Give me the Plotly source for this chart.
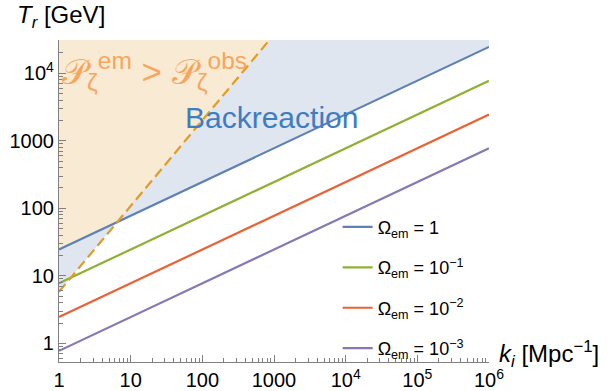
import numpy as np
import plotly.graph_objects as go

# ---- data ----
k_ends = [1, 1e6]                     # k_i [Mpc^-1]
omega_labels = ["Ω<sub>em</sub> = 1", "Ω<sub>em</sub> = 10<sup>−1</sup>",
                "Ω<sub>em</sub> = 10<sup>−2</sup>", "Ω<sub>em</sub> = 10<sup>−3</sup>"]
T_omega1 = [24.5, 24500]
T_omega01 = [7.75, 7750]
T_omega001 = [2.45, 2450]
T_omega0001 = [0.775, 775]
line_colors = ["#5e81b5", "#8fb032", "#eb6235", "#8778b3"]

k_pz = [1, 1000]                      # P_zeta^em = P_zeta^obs boundary
T_pz = [5.8, 37400]

x_ticks = [1, 10, 100, 1000, 1e4, 1e5, 1e6]
x_ticktext = ["1", "10", "100", "1000", "10<sup>4</sup>", "10<sup>5</sup>", "10<sup>6</sup>"]
y_ticks = [1, 10, 100, 1000, 1e4]
y_ticktext = ["1", "10", "100", "1000", "10<sup>4</sup>"]

x_range = [0, 6]
y_range = [np.log10(0.53), np.log10(3.1e4)]
T_far = 1e6   # beyond top of plot (clipped)

# intersection of backreaction line and P_zeta line (in log space)
lx1, ly1 = np.log10(k_ends), np.log10(T_omega1)
lx2, ly2 = np.log10(k_pz), np.log10(T_pz)
s1 = (ly1[1] - ly1[0]) / (lx1[1] - lx1[0])
s2 = (ly2[1] - ly2[0]) / (lx2[1] - lx2[0])
xc = (ly1[0] - ly2[0]) / (s2 - s1)
yc = ly1[0] + s1 * xc
kc, Tc = 10 ** xc, 10 ** yc

fig = go.Figure()

# backreaction (blue) region
fig.add_trace(go.Scatter(
    x=[k_pz[0], kc, k_ends[1], k_ends[1], k_pz[0], k_pz[0]],
    y=[T_pz[0], Tc, T_omega1[1], T_far, T_far, T_pz[0]],
    fill="toself", fillcolor="#dfe6f0", mode="none", showlegend=False, hoverinfo="skip"))
# P_zeta region (orange)
fig.add_trace(go.Scatter(
    x=[k_ends[0], kc, k_pz[1], k_pz[1], k_ends[0], k_ends[0]],
    y=[T_omega1[0], Tc, T_pz[1], T_far, T_far, T_omega1[0]],
    fill="toself", fillcolor="#f9ebd3", mode="none", showlegend=False, hoverinfo="skip"))

series = [T_omega1, T_omega01, T_omega001, T_omega0001]
for i, (T, lab, col) in enumerate(zip(series, omega_labels, line_colors)):
    fig.add_trace(go.Scatter(x=k_ends, y=T, mode="lines", name=lab,
                             line=dict(color=col, width=2.2),
                             legendgroup=f"g{i}"))

fig.add_trace(go.Scatter(x=k_pz, y=T_pz, mode="lines", showlegend=False,
                         line=dict(color="#e19c24", width=2.2, dash="10px,5px")))

axis_common = dict(
    type="log", showgrid=False, zeroline=False, showline=True, automargin=False,
    linecolor="#808080", linewidth=1.2, ticks="inside", ticklen=7,
    tickcolor="#808080", tickwidth=1,
    minor=dict(ticks="inside", ticklen=4, tickcolor="#808080", dtick="D1", showgrid=False),
    tickfont=dict(family="Liberation Sans, Arial, sans-serif", size=20, color="black"),
    mirror=False,
)

fig.update_xaxes(range=x_range, tickvals=x_ticks, ticktext=x_ticktext, **axis_common)
fig.update_yaxes(range=y_range, tickvals=y_ticks, ticktext=y_ticktext, **axis_common)

fig.update_layout(
    width=610, height=391,
    margin=dict(l=59, r=121, t=40, b=29),
    plot_bgcolor="white", paper_bgcolor="white",
    font=dict(family="Liberation Sans, Arial, sans-serif", size=18, color="black"),
    legend=dict(x=0.648, y=0.476, xanchor="left", yanchor="top",
                bgcolor="rgba(0,0,0,0)", tracegroupgap=14,
                font=dict(size=18)),
    annotations=[
        dict(text="<i>T</i><sub><i>r</i></sub> [GeV]", xref="paper", yref="paper",
             x=(15 - 59) / 430, y=(361.7 - 17) / 321.7, xanchor="left", yanchor="middle",
             showarrow=False, font=dict(size=24)),
        dict(text="<i>k</i><sub><i>i</i></sub> [Mpc<sup>−1</sup>]", xref="paper", yref="paper",
             x=(497 - 59) / 430, y=(361.7 - 354) / 321.7, xanchor="left", yanchor="middle",
             showarrow=False, font=dict(size=24)),
        dict(text="Backreaction", xref="paper", yref="paper",
             x=(183 - 59) / 430, y=(361.7 - 117) / 321.7, xanchor="left", yanchor="middle",
             showarrow=False, font=dict(size=30, color="#3d7dc2")),
        dict(text="𝒫<sub>ζ</sub><sup>em</sup>&nbsp;>&nbsp;𝒫<sub>ζ</sub><sup>obs</sup>",
             xref="paper", yref="paper",
             x=(60 - 59) / 430, y=(361.7 - 71) / 321.7, xanchor="left", yanchor="middle",
             showarrow=False, font=dict(size=35, color="#f9a55e")),
    ],
)

fig.write_html("out.html", config={"displayModeBar": False},
               post_script="document.body.style.margin='0px';document.body.style.overflow='hidden';")
